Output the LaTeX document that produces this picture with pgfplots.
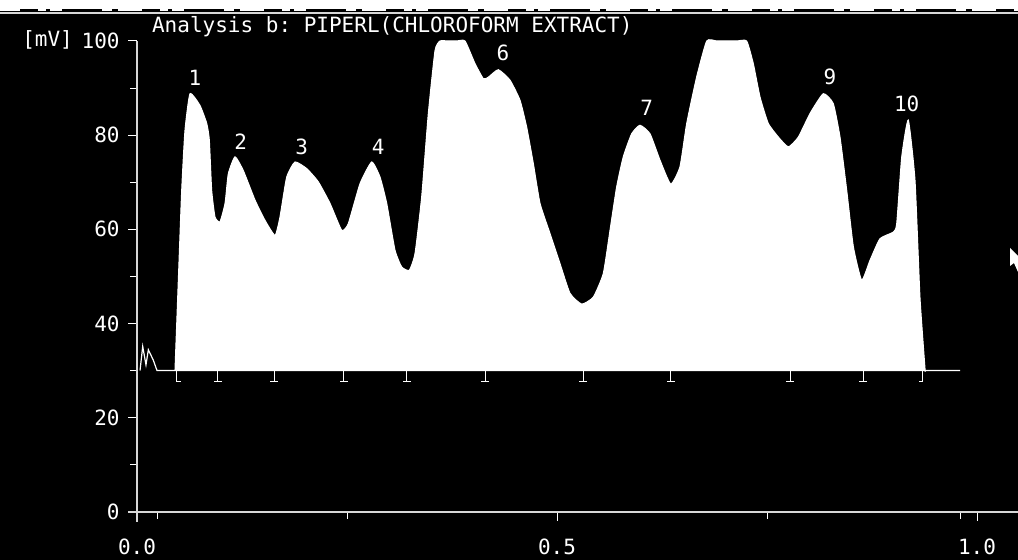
\documentclass[border=0pt]{standalone}
\usepackage{fontspec}
\setmonofont{DejaVu Sans Mono}
\usepackage{pgfplots}
\pgfplotsset{compat=1.18}
\newcommand\tf{\fontsize{10.5}{12}\selectfont\ttfamily}
\definecolor{axgray}{RGB}{215,215,215}
\pgfdeclareplotmark{perp}{%
  \pgfpathmoveto{\pgfpoint{0pt}{0pt}}\pgfpathlineto{\pgfpoint{0pt}{-5.5pt}}%
  \pgfpathmoveto{\pgfpoint{-1.9pt}{-5.5pt}}\pgfpathlineto{\pgfpoint{1.9pt}{-5.5pt}}%
  \pgfusepathqstroke}
\pgfdeclareplotmark{lmark}{%
  \pgfpathmoveto{\pgfpoint{0pt}{0pt}}\pgfpathlineto{\pgfpoint{0pt}{-5.5pt}}%
  \pgfpathlineto{\pgfpoint{2.2pt}{-5.5pt}}%
  \pgfusepathqstroke}
\pgfdeclareplotmark{rmark}{%
  \pgfpathmoveto{\pgfpoint{0pt}{0pt}}\pgfpathlineto{\pgfpoint{0pt}{-5.5pt}}%
  \pgfpathlineto{\pgfpoint{-2.2pt}{-5.5pt}}%
  \pgfusepathqstroke}
\begin{document}
\begin{tikzpicture}
\fill[black] (0,0) rectangle (509pt,280pt);
\begin{axis}[
  at={(68.5pt,24.15pt)}, anchor=south west,
  scale only axis, width=420pt, height=235.35pt,
  xmin=0, xmax=1, ymin=0, ymax=100,
  clip=false,
  axis x line*=bottom, axis y line*=left,
  axis line style={draw=none},
  ytick={0,20,...,100},
  minor ytick={10,30,50,70,90},
  xtick={0,0.5,1},
  xticklabels={0.0,0.5,1.0},
  minor xtick={0.024,0.25,0.75,0.98},
  tick align=outside,
  major tick length=4.5pt,
  minor tick length=3.5pt,
  tick style={white, line width=0.5pt},
  /pgf/number format/assume math mode=true,
  tick label style={font=\tf, text=white, inner sep=0pt},
  yticklabel style={anchor=east, xshift=-4pt},
  xticklabel style={anchor=north, yshift=-9pt},
]
\addplot[draw=white, fill=white, line width=0.5pt, smooth, tension=0.3] coordinates {
(0.0452,30) (0.0492,49.2) (0.0532,68.3) (0.0571,81) (0.0631,88.8) (0.075,86.3)
(0.083,82.5) (0.0861,79) (0.0889,68.3) (0.0929,62.6) (0.0988,61.6) (0.1048,65.5)
(0.1087,71.8) (0.1167,75.4) (0.1265,72.5) (0.1405,66.2) (0.1524,61.9) (0.1643,58.7)
(0.1702,62.6) (0.1782,71.1) (0.1881,74.3) (0.202,72.9) (0.2158,70.1) (0.2298,65.5)
(0.2437,59.8) (0.2515,61.2) (0.2655,69.7) (0.2794,74.3) (0.2893,71.1) (0.2973,65.5)
(0.3071,55.6) (0.3151,52.0) (0.3242,51.3) (0.331,54.9) (0.3389,66.9) (0.3468,84.6)
(0.3548,98) (0.3607,100) (0.3705,100) (0.3805,100) (0.3905,100) (0.4024,95.2) (0.4123,92) (0.4182,92.3)
(0.4301,93.9) (0.444,91.7) (0.456,87.4) (0.4639,81.7) (0.4718,74) (0.4798,65.5)
(0.4917,59.1) (0.5036,52.7) (0.5155,46.4) (0.5294,44.1) (0.5432,45.6) (0.5551,50.6)
(0.5631,59.8) (0.571,69) (0.5789,75.4) (0.5889,80.3) (0.5988,82.1) (0.6107,80.3)
(0.6226,74.7) (0.6354,69.6) (0.6464,73.3) (0.6544,82.5) (0.6663,92.4) (0.6782,100)
(0.6900,100) (0.7020,100) (0.7140,100) (0.7258,100) (0.7337,95.2) (0.7417,88.1) (0.7515,82.5) (0.7635,79.6) (0.7754,77.5)
(0.7873,79.6) (0.8012,84.6) (0.817,88.8) (0.8289,86.7) (0.8369,79.6) (0.8449,68.3)
(0.8528,56.3) (0.8627,49.2) (0.8726,53.4) (0.8845,58.0) (0.9004,59.4) (0.9044,61.2)
(0.9104,75.4) (0.9182,83.2) (0.9262,70.4) (0.9321,45.6) (0.9381,30.4) (0.9381,30)
};
% baseline with early noise
\addplot[white, line width=0.6pt] coordinates {
(0.0036,30) (0.0068,35.1) (0.0107,31.2) (0.0135,34.4) (0.0194,32.2) (0.0238,30) (0.98,30)
};
% peak separation markers
\addplot[white, only marks, mark=perp, mark options={line width=0.5pt}] coordinates {
(0.0964,30) (0.1631,30) (0.2464,30) (0.3214,30) (0.4143,30) (0.531,30) (0.6357,30) (0.7774,30) (0.8643,30)
};
\addplot[white, only marks, mark=lmark, mark options={line width=0.5pt}] coordinates {(0.0476,30)};
\addplot[white, only marks, mark=rmark, mark options={line width=0.5pt}] coordinates {(0.9357,30)};
% axis lines
\draw[axgray, line width=1pt] (axis cs:0,-2.1) -- (axis cs:0,100);
\draw[axgray, line width=1pt] (axis cs:-0.0107,0) -- (axis cs:1.0488,0);
% peak labels
\begin{scope}[every node/.style={font=\tf, text=white, inner sep=0pt}]
\node at (axis cs:0.069,92.1) {1};
\node at (axis cs:0.1234,78.5) {2};
\node at (axis cs:0.196,77.6) {3};
\node at (axis cs:0.287,77.6) {4};
\node at (axis cs:0.4357,97.4) {6};
\node at (axis cs:0.6068,85.7) {7};
\node at (axis cs:0.825,92.4) {9};
\node at (axis cs:0.9163,86.6) {10};
\node at (axis cs:-0.1065,100.2) {[mV]};
\node[anchor=west] at (axis cs:0.0175,103.0) {Analysis b: PIPERL(CHLOROFORM EXTRACT)};
\end{scope}
\end{axis}
% top strip
\fill[white] (0,274.5pt) rectangle (509pt,280pt);
\draw[black, line width=0.8pt, dash pattern=on 9pt off 4pt on 2pt off 6pt on 20pt off 5pt on 3pt off 12pt]
  (10pt,274.9pt) -- (509pt,274.9pt);
\draw[axgray, line width=0.8pt] (0,273.6pt) -- (509pt,273.6pt);
% cursor
\fill[white] (505pt,156pt) -- (509pt,152pt) -- (509pt,144pt) -- (507pt,148.5pt) -- (505pt,147pt) -- cycle;
\pgfresetboundingbox
\useasboundingbox (0,0) rectangle (509pt,280pt);
\end{tikzpicture}
\end{document}
